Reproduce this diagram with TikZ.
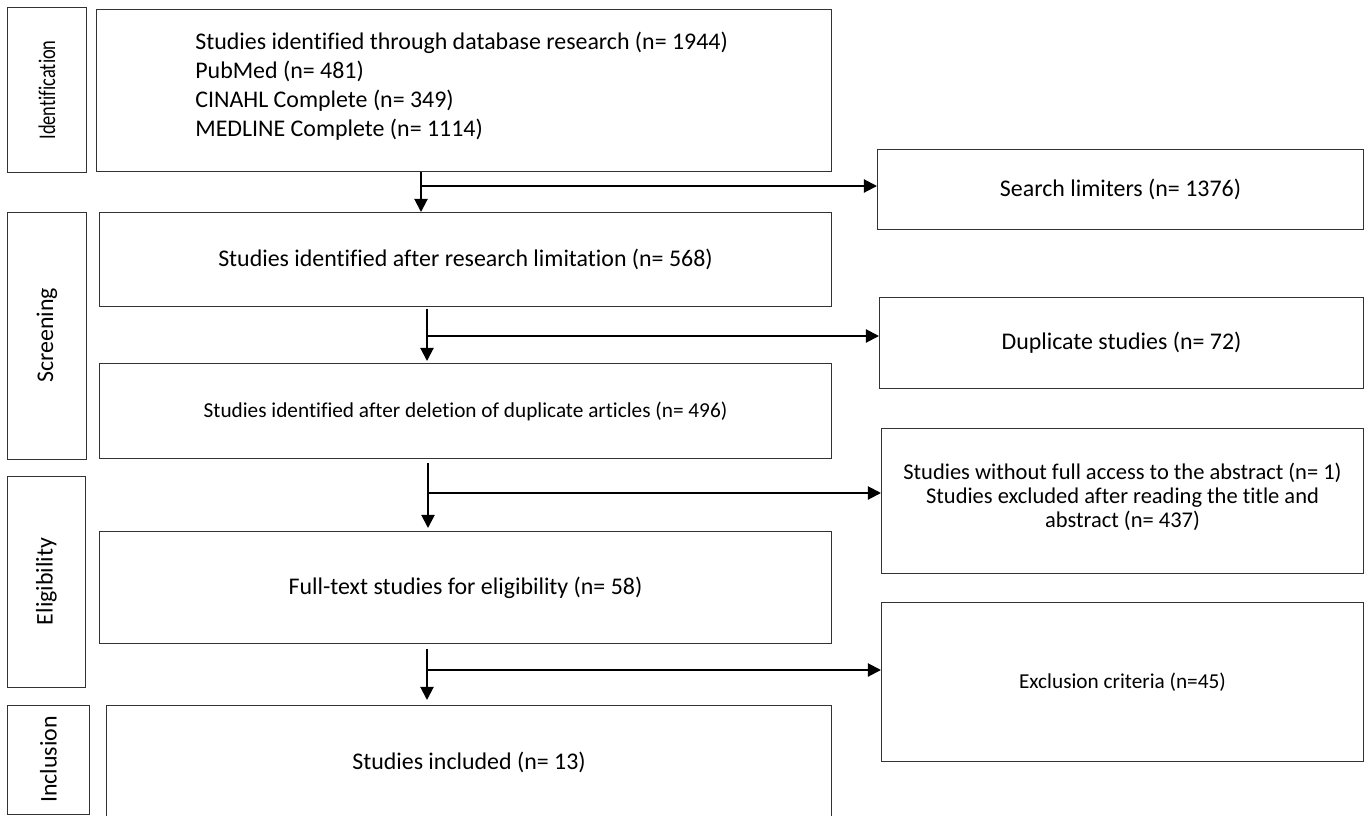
\documentclass[tikz,border=0pt]{standalone}
\usepackage{graphicx}
\usepackage{fontspec}
\setmainfont{Carlito}[Ligatures=NoCommon]
\usetikzlibrary{arrows.meta, positioning}

\newcommand{\mainsize}{\fontsize{13.6pt}{16.5pt}\selectfont}
\newcommand{\midsize}{\fontsize{12.8pt}{13.4pt}\selectfont}
\newcommand{\smallsize}{\fontsize{12.1pt}{14pt}\selectfont}

\begin{document}
\begin{tikzpicture}[
		x=0.2mm, y=-0.2mm,
		font=\mainsize,
		box/.style={draw=black!80, line width=0.2mm, rectangle, align=center, inner sep=0pt, anchor=north west},
		stage/.style={draw=black!80, line width=0.2mm, rectangle, rotate=90, align=center, inner sep=0pt},
		flow/.style={-{Triangle[length=7.5pt, width=7.5pt]}, line width=0.4mm}
		]
		
		\useasboundingbox (0,0) rectangle (1370,815);
		
		% Stages
		\node[stage, minimum width=32.8mm, minimum height=15.6mm] (ident) at (47,90) {\scalebox{0.77}[1]{Identification}};
		\node[stage, minimum width=49.4mm, minimum height=15.6mm] (screen) at (47,335.5) {Screening};
		\node[stage, minimum width=42.2mm, minimum height=15.4mm] (elig) at (46.5,581.5) {Eligibility};
		\node[stage, minimum width=21.8mm, minimum height=16.2mm] (incl) at (48.5,759.5) {Inclusion};
		
		% Main flow
		\node[box, minimum width=147mm, minimum height=32.4mm] (search) at (96,9) {};
		\node[right=19.8mm of search.west, yshift=0.8mm, align=left, inner sep=0pt] (searchtxt)
		{Studies identified through database research (n= 1944)\\
			PubMed (n= 481)\\
			CINAHL Complete (n= 349)\\
			MEDLINE Complete (n= 1114)};
		
		\node[box, minimum width=146.4mm, minimum height=18.8mm] (limited) at (99,212)
		{Studies identified after research limitation (n= 568)};
		
		\node[box, minimum width=146.4mm, minimum height=19mm, font=\smallsize] (dedup) at (99,363)
		{Studies identified after deletion of duplicate articles (n= 496)};
		
		\node[box, minimum width=146.4mm, minimum height=22.4mm] (fulltext) at (99,531)
		{Full-text studies for eligibility (n= 58)};
		
		\node[box, minimum width=145mm, minimum height=22.6mm] (included) at (106,705)
		{Studies included (n= 13)};
		
		% Excluded
		\node[box, minimum width=97.2mm, minimum height=16mm] (limit) at (877,149)
		{Search limiters (n= 1376)};
		
		\node[box, minimum width=96.8mm, minimum height=18.2mm] (dup) at (879,297)
		{Duplicate studies (n= 72)};
		
		\node[box, minimum width=96.4mm, minimum height=29mm, font=\midsize] (abst) at (881,428)
		{Studies without full access to the abstract (n= 1)\\
			Studies excluded after reading the title and\\
			abstract (n= 437)\\[-2.4mm]};
		
		\node[box, minimum width=96.4mm, minimum height=31.8mm, font=\smallsize] (excl) at (881,602)
		{Exclusion criteria (n=45)};
		
		% Arrows
		\coordinate (j1) at (421,186);
		\coordinate (j2) at (427,336);
		\coordinate (j3) at (428,493);
		\coordinate (j4) at (427,670);
		
		\draw[flow] (search.south -| j1) -- (limited.north -| j1);
		\draw[flow, shorten <=0.4mm, shorten >=0.4mm] (limited.south -| j2) -- (dedup.north -| j2);
		\draw[flow, shorten <=0.8mm, shorten >=0.6mm] (dedup.south -| j3) -- (fulltext.north -| j3);
		\draw[flow, shorten <=1mm, shorten >=1mm] (fulltext.south -| j4) -- (included.north -| j4);
		
		\draw[flow] (j1) -- (limit.west |- j1);
		\draw[flow] (j2) -- (dup.west |- j2);
		\draw[flow] (j3) -- (abst.west |- j3);
		\draw[flow] (j4) -- (excl.west |- j4);
		
	\end{tikzpicture}
\end{document}
